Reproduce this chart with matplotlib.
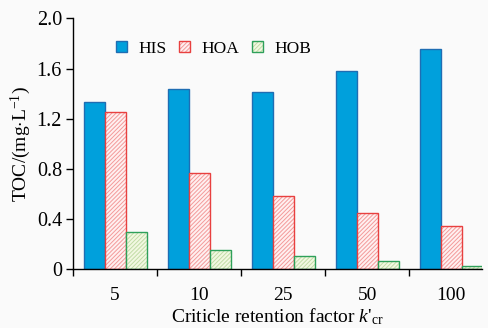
import numpy as np
import matplotlib
matplotlib.use("Agg")
from matplotlib import pyplot as plt

# data
factors = ["5", "10", "25", "50", "100"]
his = [1.33, 1.435, 1.415, 1.578, 1.755]
hoa = [1.255, 0.765, 0.587, 0.446, 0.347]
hob = [0.295, 0.151, 0.108, 0.066, 0.026]
y_ticks = [0, 0.4, 0.8, 1.2, 1.6, 2.0]
y_tick_labels = ["0", "0.4", "0.8", "1.2", "1.6", "2.0"]

plt.rcParams["font.family"] = ["Liberation Serif", "DejaVu Serif"]
plt.rcParams["mathtext.fontset"] = "custom"
plt.rcParams["mathtext.rm"] = "Liberation Serif"
plt.rcParams["mathtext.it"] = "Liberation Serif:italic"
plt.rcParams["hatch.linewidth"] = 0.7

bg = "#fafafa"
fig = plt.figure(figsize=(4.88, 3.28), dpi=100, facecolor=bg)
ax = fig.add_axes([0.150, 0.179, 0.838, 0.765], facecolor=bg)

x = np.arange(len(factors))
w = 0.25

b1 = ax.bar(x - w, his, w, color="#00a0dc", edgecolor="#1f6db3", linewidth=1.0)
# hatched fills first, then crisp outlines on top
f2 = ax.bar(x, hoa, w, color="#fff0f0", edgecolor="#f39a9a", hatch="////////", linewidth=0)
o2 = ax.bar(x, hoa, w, fill=False, edgecolor="#e8403f", linewidth=1.0)
f3 = ax.bar(x + w, hob, w, color="#f2f8e2", edgecolor="#c2dca6", hatch="////////", linewidth=0)
o3 = ax.bar(x + w, hob, w, fill=False, edgecolor="#2ea05a", linewidth=1.0)

ax.legend([b1, (f2, o2), (f3, o3)], ["HIS", "HOA", "HOB"], ncol=3, frameon=False,
          loc="center left", bbox_to_anchor=(0.105, 0.878), fontsize=12.5,
          borderpad=0, borderaxespad=0,
          handlelength=0.62, handleheight=0.62, handletextpad=0.65,
          columnspacing=0.75)

ax.set_xlim(-0.5, 4.37)
ax.set_ylim(0, 2.0)
ax.set_yticks(y_ticks)
ax.set_yticklabels(y_tick_labels)
ax.set_xticks(x)
ax.set_xticklabels(factors)
ax.set_xticks(np.arange(len(factors)) - 0.5, minor=True)
ax.tick_params(axis="x", which="major", length=0, pad=13, labelsize=14)
ax.tick_params(axis="x", which="minor", length=5, width=1.0, direction="out")
ax.tick_params(axis="y", length=5, width=1.0, direction="out", labelsize=14.5, pad=3)

for side in ["top", "right"]:
    ax.spines[side].set_visible(False)
for side in ["left", "bottom"]:
    ax.spines[side].set_linewidth(1.0)

ax.set_ylabel(r"TOC/(mg$\cdot$L$^{-1}$)", fontsize=14, labelpad=3)
ax.set_xlabel(r"Criticle retention factor $k$'$_{\rm cr}$", fontsize=14, labelpad=1.5)

fig.savefig("out.png", dpi=100, facecolor=bg)
